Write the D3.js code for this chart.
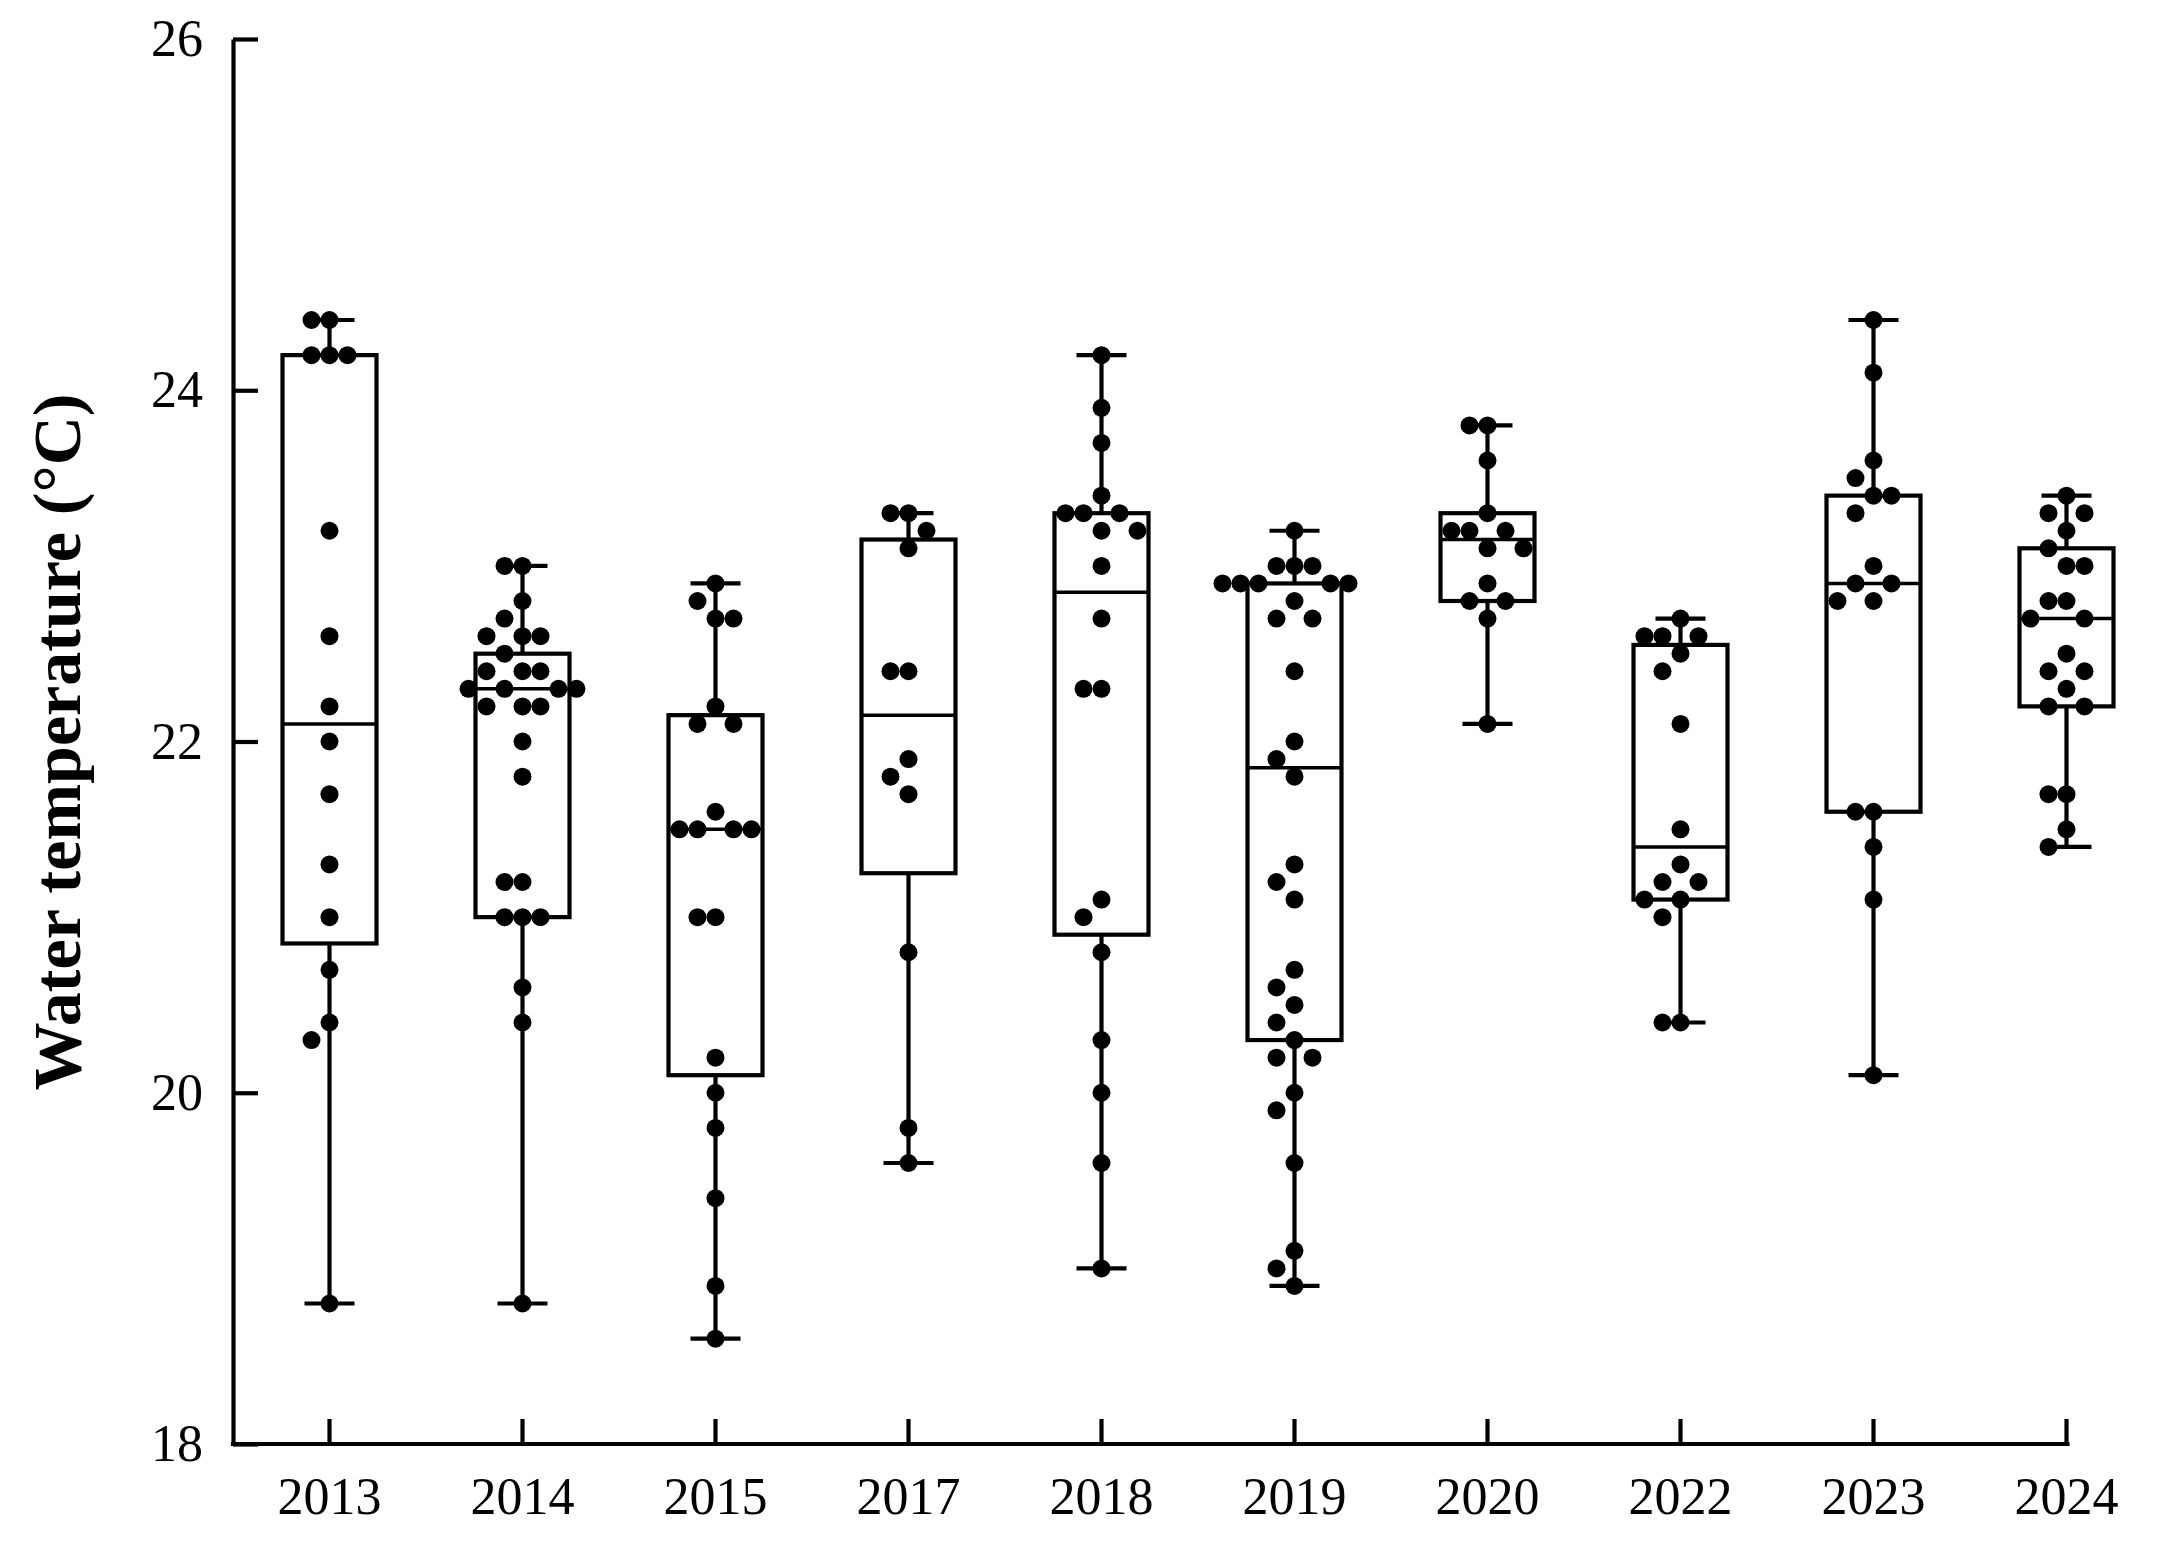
<!DOCTYPE html>
<html>
<head>
<meta charset="utf-8">
<script src="https://cdn.jsdelivr.net/npm/d3@7"></script>
<style>
  html, body { margin: 0; padding: 0; background: #ffffff; }
  svg { display: block; }
  text { font-family: "Liberation Serif", "Times New Roman", serif; fill: #000; }
</style>
</head>
<body>
<svg id="chart" width="2175" height="1549"></svg>
<script>
// ---- Data ----
const years = ["2013", "2014", "2015", "2017", "2018", "2019", "2020", "2022", "2023", "2024"];

const t2013 = [24.4, 24.4, 24.2, 24.2, 24.2, 23.2, 22.6, 22.2, 22.0, 21.7, 21.3, 21.0, 20.7, 20.4, 20.3, 18.8];
const t2014 = [23.0, 23.0, 22.8, 22.7, 22.6, 22.6, 22.6, 22.5, 22.4, 22.4, 22.4, 22.3, 22.3, 22.3, 22.3, 22.2, 22.2, 22.2, 22.0, 21.8, 21.2, 21.2, 21.0, 21.0, 21.0, 20.6, 20.4, 18.8];
const t2015 = [22.9, 22.8, 22.7, 22.7, 22.2, 22.1, 22.1, 21.6, 21.5, 21.5, 21.5, 21.5, 21.0, 21.0, 20.2, 20.0, 19.8, 19.4, 18.9, 18.6];
const t2017 = [23.3, 23.3, 23.2, 23.1, 22.4, 22.4, 21.9, 21.8, 21.7, 20.8, 19.8, 19.6];
const t2018 = [24.2, 23.9, 23.7, 23.4, 23.3, 23.3, 23.3, 23.2, 23.2, 23.0, 22.7, 22.3, 22.3, 21.1, 21.0, 20.8, 20.3, 20.0, 19.6, 19.0];
const t2019 = [23.2, 23.0, 23.0, 23.0, 22.9, 22.9, 22.9, 22.9, 22.9, 22.8, 22.7, 22.7, 22.4, 22.0, 21.9, 21.8, 21.3, 21.2, 21.1, 20.7, 20.6, 20.5, 20.4, 20.3, 20.2, 20.2, 20.0, 19.9, 19.6, 19.1, 19.0, 18.9];
const t2020 = [23.8, 23.8, 23.6, 23.3, 23.2, 23.2, 23.2, 23.1, 23.1, 22.9, 22.8, 22.8, 22.7, 22.1];
const t2022 = [22.7, 22.6, 22.6, 22.6, 22.5, 22.4, 22.1, 21.5, 21.3, 21.2, 21.2, 21.1, 21.1, 21.0, 20.4, 20.4];
const t2023 = [24.4, 24.1, 23.6, 23.5, 23.4, 23.4, 23.3, 23.0, 22.9, 22.9, 22.8, 22.8, 21.6, 21.6, 21.4, 21.1, 20.1];
const t2024 = [23.4, 23.3, 23.3, 23.2, 23.1, 23.0, 23.0, 22.8, 22.8, 22.7, 22.7, 22.5, 22.4, 22.4, 22.3, 22.2, 22.2, 21.7, 21.7, 21.5, 21.4];

// Box statistics per year (min, lower quartile, median, upper quartile, max)
const mins    = [18.8, 18.8, 18.6, 19.6, 19.0, 18.9, 22.1, 20.4, 20.1, 21.4];
const q1s     = [20.85, 21.0, 20.1, 21.25, 20.9, 20.3, 22.8, 21.1, 21.6, 22.2];
const medians = [22.1, 22.3, 21.5, 22.15, 22.85, 21.85, 23.15, 21.4, 22.9, 22.7];
const q3s     = [24.2, 22.5, 22.15, 23.15, 23.3, 22.9, 23.3, 22.55, 23.4, 23.1];
const maxs    = [24.4, 23.0, 22.9, 23.3, 24.2, 23.2, 23.8, 22.7, 24.4, 23.4];

const yTicks = [18, 20, 22, 24, 26];
const yLabel = "Water temperature (°C)";

const seriesList = [t2013, t2014, t2015, t2017, t2018, t2019, t2020, t2022, t2023, t2024];

// ---- Layout ----
const svg = d3.select("#chart");
const mLeft = 233, mRight = 2163, mTop = 39, mBottom = 1444;
const lineW = 4.2;
const boxHalf = 47, capHalf = 25, dotR = 9;
const fontStack = "Liberation Serif, Times New Roman, serif";

const x = d3.scaleBand().domain(years).range([mLeft, mRight]).padding(0);
const y = d3.scaleLinear().domain([18, 26]).range([mBottom, mTop]);
const cx = d => x(d) + x.bandwidth() / 2;

// ---- Y axis ----
const yAxis = svg.append("g")
  .attr("transform", `translate(${mLeft},0)`)
  .call(d3.axisLeft(y).tickValues(yTicks).tickSizeInner(-25).tickSizeOuter(0).tickPadding(30).tickFormat(d3.format("d")));
yAxis.select(".domain").attr("stroke", "#000").attr("stroke-width", lineW);
yAxis.selectAll(".tick line").attr("stroke", "#000").attr("stroke-width", lineW);
yAxis.selectAll(".tick text").attr("font-size", 52).attr("font-family", fontStack).attr("fill", "#000");

// ---- X axis ----
const xAxis = svg.append("g")
  .attr("transform", `translate(0,${mBottom})`)
  .call(d3.axisBottom(x).tickSizeInner(-25).tickSizeOuter(0).tickPadding(33));
xAxis.select(".domain").remove();
xAxis.append("line")
  .attr("x1", mLeft - lineW / 2)
  .attr("x2", cx(years[years.length - 1]) + 3)
  .attr("y1", 0).attr("y2", 0)
  .attr("stroke", "#000").attr("stroke-width", lineW);
xAxis.selectAll(".tick line").attr("stroke", "#000").attr("stroke-width", lineW);
xAxis.selectAll(".tick text").attr("font-size", 52).attr("font-family", fontStack).attr("fill", "#000");

// ---- Y label ----
svg.append("text")
  .attr("transform", `translate(80,742) rotate(-90)`)
  .attr("text-anchor", "middle")
  .attr("font-size", 68)
  .attr("font-weight", "bold")
  .attr("font-family", fontStack)
  .text(yLabel);

// ---- Boxes ----
const boxG = svg.append("g");
years.forEach((yr, i) => {
  const c = cx(yr);
  const g = boxG.append("g");
  g.append("line").attr("x1", c).attr("x2", c).attr("y1", y(maxs[i])).attr("y2", y(q3s[i]))
    .attr("stroke", "#000").attr("stroke-width", lineW);
  g.append("line").attr("x1", c).attr("x2", c).attr("y1", y(q1s[i])).attr("y2", y(mins[i]))
    .attr("stroke", "#000").attr("stroke-width", lineW);
  [maxs[i], mins[i]].forEach(v => {
    g.append("line").attr("x1", c - capHalf).attr("x2", c + capHalf).attr("y1", y(v)).attr("y2", y(v))
      .attr("stroke", "#000").attr("stroke-width", lineW);
  });
  g.append("rect")
    .attr("x", c - boxHalf).attr("width", boxHalf * 2)
    .attr("y", y(q3s[i])).attr("height", y(q1s[i]) - y(q3s[i]))
    .attr("fill", "#fff").attr("stroke", "#000").attr("stroke-width", lineW);
  g.append("line").attr("x1", c - boxHalf).attr("x2", c + boxHalf).attr("y1", y(medians[i])).attr("y2", y(medians[i]))
    .attr("stroke", "#000").attr("stroke-width", 3.5);
});

// ---- Dots: simple deterministic beeswarm ----
function swarm(values) {
  const D = dotR * 2.0, Dv = D * 1.7, step = D / 2;
  const sorted = values.map((v, k) => ({ v, k })).sort((a, b) => b.v - a.v);
  const placed = [];
  sorted.forEach(p => {
    const py = y(p.v);
    for (let n = 0; n < 40; n++) {
      const m = Math.ceil(n / 2) * (n % 2 === 1 ? -1 : 1);
      const dx = m * step;
      const hit = placed.some(q => {
        const a = (q.dx - dx) / D, b = (q.py - py) / Dv;
        return a * a + b * b < 0.999;
      });
      if (!hit) { placed.push({ v: p.v, py, dx }); break; }
    }
  });
  return placed;
}

const dotG = svg.append("g");
years.forEach((yr, i) => {
  const c = cx(yr);
  const pts = swarm(seriesList[i]);
  dotG.selectAll(null).data(pts).enter().append("circle")
    .attr("cx", d => c + d.dx)
    .attr("cy", d => d.py)
    .attr("r", dotR)
    .attr("fill", "#000");
});
</script>
</body>
</html>
